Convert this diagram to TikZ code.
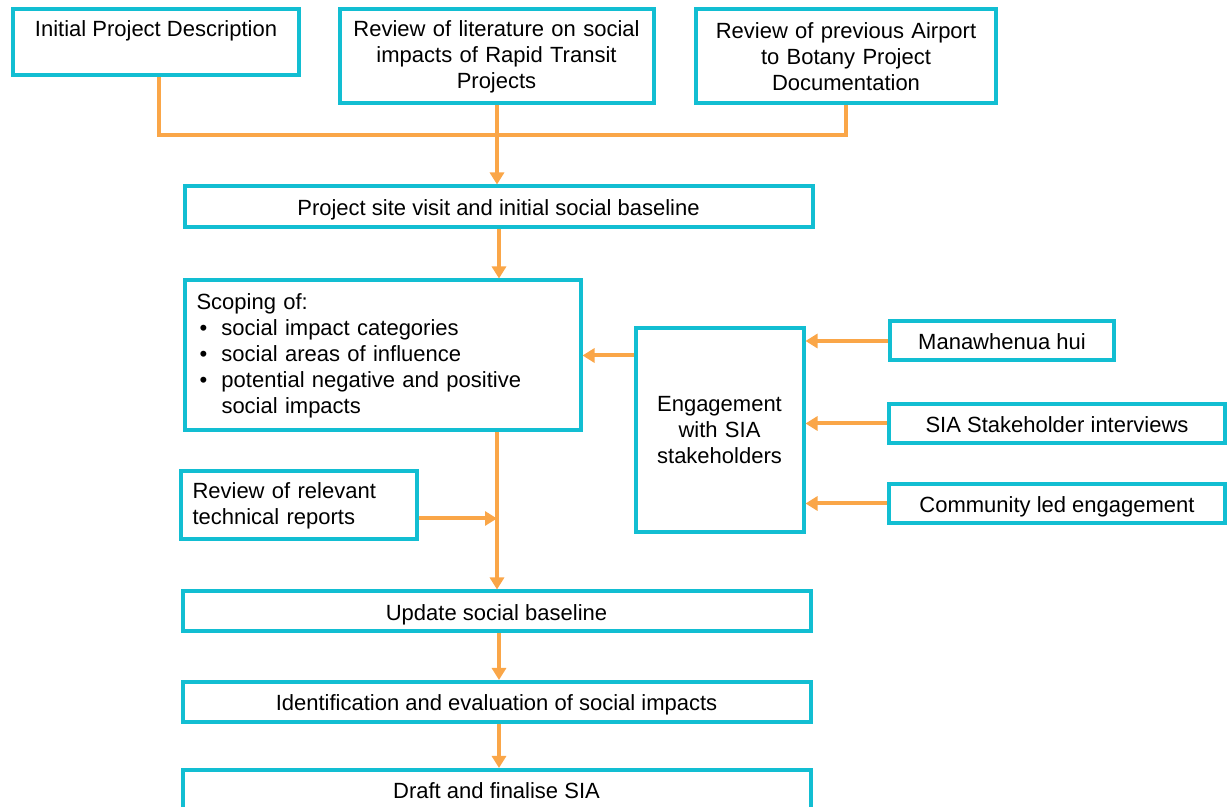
\documentclass[tikz,border=0pt]{standalone}
\usepackage{fontspec}
\setmainfont{Liberation Sans}
\usetikzlibrary{arrows.meta}
\usetikzlibrary{calc}

\definecolor{boxcyan}{RGB}{18,190,210}
\definecolor{linkorange}{RGB}{250,166,72}

\newcommand{\blt}{\hspace*{1.5pt}\makebox[11pt][l]{\textbullet}}

\begin{document}
\begin{tikzpicture}[x=0.5pt, y=-0.5pt]

% Define styles
\tikzset{
    stage/.style={draw=boxcyan, line width=2pt, fill=white, rectangle, inner xsep=6pt, inner ysep=3pt,
        font=\fontsize{11}{13}\selectfont},
    oneline/.style={stage, text height=11pt, text depth=2pt},
    link/.style={draw=linkorange, line width=2pt},
    flow/.style={link, -{Triangle[length=6pt,width=7pt]}}
}

% zeige den Teil, der durch die Graphik benutzt wird
\useasboundingbox (0,0) rectangle (1228,807);

% grind lines
%\draw[help lines, dashed] grid (1228,807);

% main spine of the process
\coordinate (spine) at (497,0);
\coordinate (join) at (0,135);

% top row: inputs
\node[stage, text height=8.5pt, text depth=14pt, minimum width=143pt, minimum height=33pt] (init) at (156,42.5)
    {Initial Project Description};
\node[stage, text width=145pt, minimum height=47pt, align=center] (lit) at (496.5,56.5)
    {Review of literature on social\\impacts of Rapid Transit\\Projects};
\node[stage, text width=138pt, minimum height=47pt, align=center] (prev) at (846,56.5)
    {Review of previous Airport\\to Botany Project\\Documentation};

% site visit
\node[oneline, minimum width=314pt, minimum height=20.5pt] (site) at (498.5,207)
    {Project site visit and initial social baseline};

% scoping
\node[stage, text width=186pt, minimum height=75pt, align=left] (scope) at (382.5,355.5)
    {Scoping of:\\
     \blt social impact categories\\
     \blt social areas of influence\\
     \blt potential negative and positive\\
     \hspace*{12.5pt}social impacts};

% engagement and its sources
\node[stage, text width=72pt, minimum height=102pt, align=center] (engage) at (719.5,430.5)
    {Engagement\\with SIA\\stakeholders};

\node[oneline, minimum width=112pt, minimum height=19.5pt] (mana) at (1002,341)
    {Manawhenua hui};
\node[oneline, minimum width=168pt, minimum height=19.5pt] (inter) at (1057,423.5)
    {SIA Stakeholder interviews};
\node[oneline, minimum width=168pt, minimum height=19.5pt] (comm) at (1057,503.5)
    {Community led engagement};

% technical reports
\node[stage, text width=106pt, minimum height=34pt, align=left] (tech) at (298.5,505.5)
    {Review of relevant technical reports};

% lower stages
\node[oneline, minimum width=314pt, minimum height=20pt] (update) at (496.5,611.5)
    {Update social baseline};
\node[oneline, minimum width=314pt, minimum height=20pt] (ident) at (496.5,702)
    {Identification and evaluation of social impacts};
\node[oneline, minimum width=314pt, minimum height=20pt] (draft) at (496.5,790)
    {Draft and finalise SIA};


% connectors of the top row
\draw[link] ([xshift=1.5pt]init.south) |- (prev.south |- join) -- (prev.south);
\draw[flow] (spine |- lit.south) -- (spine |- site.north);

% down the spine
\draw[flow] ([xshift=1pt]spine |- site.south) -- ([xshift=1pt]spine |- scope.north);
\draw[flow] (spine |- scope.south) -- (spine |- update.north);
\draw[flow] ([yshift=-6.5pt]tech.east) -- ([yshift=-6.5pt]spine |- tech.east);
\draw[flow] ([xshift=1pt]spine |- update.south) -- ([xshift=1pt]spine |- ident.north);
\draw[flow] ([xshift=1pt]spine |- ident.south) -- ([xshift=1pt]spine |- draft.north);

% engagement
\draw[flow] (engage.west |- scope.east) -- (scope.east);
\draw[flow] (mana.west) -- (engage.east |- mana.west);
\draw[flow] (inter.west) -- (engage.east |- inter.west);
\draw[flow] (comm.west) -- (engage.east |- comm.west);

\end{tikzpicture}
\end{document}
